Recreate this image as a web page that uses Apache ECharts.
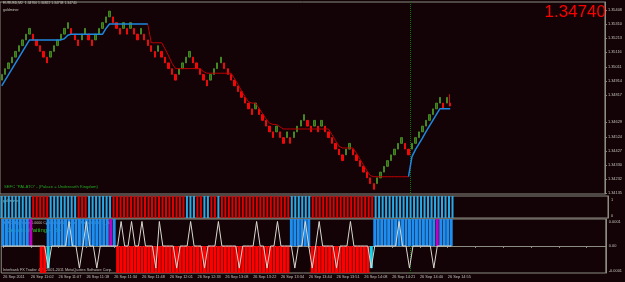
<!DOCTYPE html>
<html><head><meta charset="utf-8">
<script src="https://cdn.jsdelivr.net/npm/echarts@6/dist/echarts.min.js"></script>
<style>html,body{margin:0;padding:0;background:#130206;}#c{width:625px;height:282px;}</style>
</head><body><div id="c"></div>
<script>
// ---------- DATA ----------
const BRICK = 0.0004;
const brickClose = [
1.3496,1.3500,1.3504,1.3508,1.3512,1.3516,1.3520,1.3524,1.3528,
1.3520,1.3516,1.3512,1.3508,1.3504,
1.3512,1.3516,1.3520,1.3524,1.3528,1.3532,
1.3524,1.3520,1.3516,
1.3524,1.3528,
1.3520,1.3516,
1.3524,1.3528,1.3532,1.3536,1.3540,
1.3532,1.3528,1.3524,
1.3532,1.3524,1.3532,
1.3524,1.3520,
1.3528,
1.3520,1.3516,1.3512,1.3508,
1.3516,
1.3508,1.3504,1.3500,1.3496,1.3492,
1.3500,1.3504,1.3508,1.3512,
1.3504,1.3500,1.3496,1.3492,1.3488,
1.3496,1.3500,1.3504,1.3508,
1.3500,1.3496,1.3492,1.3488,1.3484,1.3480,1.3476,1.3472,1.3468,
1.3476,
1.3468,1.3464,1.3460,1.3456,1.3452,
1.3460,
1.3452,1.3448,
1.3456,1.3448,
1.3456,1.3460,1.3464,1.3468,
1.3460,1.3456,
1.3464,1.3456,1.3464,
1.3456,1.3452,1.3448,1.3444,1.3440,1.3436,
1.3444,1.3448,
1.3440,1.3436,1.3432,1.3428,1.3424,1.3420,1.3416,
1.3424,1.3428,1.3432,1.3436,1.3440,1.3444,1.3448,1.3452,
1.3444,1.3440,
1.3448,1.3452,1.3456,1.3460,1.3464,1.3468,1.3472,1.3476,1.3480,
1.3472,1.3480,
1.3474];
const brickDir =
 "uuuuuuuuu"+"ddddd"+"uuuuuu"+"ddd"+"uu"+"dd"+"uuuuu"+"ddd"+"u"+"d"+"u"+"dd"+"u"+"dddd"+"u"+
 "ddddd"+"uuuu"+"ddddd"+"uuuu"+"ddddddddd"+"u"+"ddddd"+"u"+"dd"+"u"+"d"+"uuuu"+"dd"+"u"+"d"+"u"+
 "dddddd"+"uu"+"ddddddd"+"uuuuuuuu"+"dd"+"uuuuuuuuu"+"d"+"u"+"d";
const lastBar = {open:1.3476, close:1.3474, low:1.34738, high:1.34822};

const stopLine = [
1.3488,1.3492,1.3496,1.3500,1.3504,1.3508,1.3512,1.3516,
1.3520,1.3520,1.3520,1.3520,1.3520,1.3520,1.3520,1.3520,1.3520,1.3520,
1.35208,1.35232,
1.3524,1.3524,1.3524,1.3524,1.3524,1.3524,1.3524,1.3524,1.3524,1.3524,
1.3528,1.3531,
1.3531,1.3531,1.3531,1.3531,1.3531,1.3531,1.3531,1.3531,1.3531,1.3531,1.3531,
1.3518,1.3518,1.3518,1.3518,
1.35136,1.35088,1.35036,
1.3500,1.3500,1.3500,1.3500,1.3500,1.3500,1.3500,1.3500,
1.3498,
1.34968,1.34968,1.34968,1.34968,1.34968,1.34968,1.34968,1.34968,
1.34928,1.34888,1.34844,1.34804,1.34768,
1.3476,1.3476,
1.34724,1.34688,1.34652,1.3462,
1.34612,1.34612,
1.34596,
1.3458,1.3458,1.3458,1.3458,1.3458,1.3458,1.3458,1.3458,1.3458,1.3458,1.3458,1.3458,1.3458,1.3458,
1.3454,1.3450,1.3446,
1.34448,1.34448,1.34448,1.34448,
1.34412,1.34372,1.34332,1.34292,1.34256,
1.34248,1.34248,1.34248,1.34248,1.34248,1.34248,1.34248,1.34248,1.34248,1.34248,1.34248,
1.34388,1.34436,1.34476,1.34516,1.3456,1.3460,1.3464,1.3468,
1.3472,1.3472,1.3472,1.3472];
const stopUpRanges = [[0,42],[117,129]];

const timeLabels = ["26 Sep 2011","26 Sep 11:02","26 Sep 11:07","26 Sep 11:18","26 Sep 11:34","26 Sep 11:48",
 "26 Sep 12:01","26 Sep 12:33","26 Sep 13:08","26 Sep 13:22","26 Sep 13:34","26 Sep 13:44","26 Sep 13:51",
 "26 Sep 14:08","26 Sep 14:21","26 Sep 14:40","26 Sep 14:55"];
const priceTicks = [1.35408,1.35310,1.35213,1.35116,1.35011,1.34914,1.34817,1.34629,1.34524,1.34427,1.34330,1.34232,1.34135];

const gmColors =
 "bbbbbbbbb"+"rrrrr"+"bbbbbbbb"+"rrr"+"bbbbbbb"+"rrrrrrrrrrrrrrrrrrrrr"+"bbbrrbbrrb"+
 "rrrrrrrrrrrrrrrrrrrr"+"bbbbbb"+"rrrrrrrrrrrrrrrrrr"+"bbbbbbbbbbbbbbbbbbbbbbb";
const gmTicks = [1, 0];

const oscHist =
 "UUUUUUUU"+"M"+"00"+"DD"+"X"+"UUUUUUUUUUUUUUUUU"+"M"+"U"+
 "DDDDDDDDDD"+"DDDDDDDDDD"+"DDDDDDDDDD"+"DDDDDDDDDD"+"DDDDDDDDDD"+
 "UUUUUU"+"DDDDDDDDDDDDDDDDD"+"C"+"UUUUUUUUUUUUUUUUUU"+"M"+"UUUU";
const oscSpikeUp = [19,24,34,37,40,45,54,62,73,79,87,91,100,114];
const oscSpikeDown = [13,22,27,44,50,58,68,76,84,89,96,106,117,124];
const oscTicks = [0.0001, 0, -0.0001];
const oscTickText = ["0.0001","0.00","-0.0001"];

// ---------- BUILD ----------
const N = 174, NB = brickClose.length;
const cats = []; for (let i=0;i<N;i++) cats.push(String(i));
const candles = brickClose.map((c,i)=>{
  if (i===NB-1) return [lastBar.open,lastBar.close,lastBar.low,lastBar.high];
  const o = brickDir[i]==='u' ? c-BRICK : c+BRICK;
  return [o,c,Math.min(o,c),Math.max(o,c)];
});
const inUp = i => stopUpRanges.some(r=>i>=r[0]&&i<=r[1]);
const lineUp = stopLine.map((v,i)=>inUp(i)?v:null);
const lineDn = stopLine.map((v,i)=>(!inUp(i)||stopUpRanges.some(r=>i===r[0]&&i>0)||stopUpRanges.some(r=>i===r[1]&&i<NB-1))?v:null);

const gmData = gmColors.split('').map(ch=>({value:1,itemStyle:{color: ch==='b'?'#29aae6':'#e00000'}}));
const TOPV = 0.00011, BOTV = -0.00011;
const upCol = {U:'#1e8ef0',M:'#c000c0',X:'#1e8ef0'};
const oscUp = oscHist.split('').map(ch=>upCol[ch]?{value:TOPV,itemStyle:{color:upCol[ch]}}:null);
const oscDn = oscHist.split('').map(ch=>ch==='D'?{value:BOTV,itemStyle:{color:'#ff0000'}}:
  (ch==='C'||ch==='X')?{value:-0.00009,itemStyle:{color:'#10d8f0'}}:null);
const oscLine = [];
for (let i=0;i<NB;i++) oscLine.push(oscSpikeUp.includes(i)?0.0001:(oscSpikeDown.includes(i)?-0.00009:0));

const GRAY='#8c8c80', TXT='#c4c4bc', FF='Liberation Sans, Arial, sans-serif';
const yMax = 1.354635, yMin = 1.341278;

const chart = echarts.init(document.getElementById('c'));
const xAx = g => ({type:'category', gridIndex:g, data:cats, boundaryGap:true,
  axisLine:{show:g===2, lineStyle:{color:GRAY}},
  axisTick:{show:g===2, interval:7, alignWithLabel:true, length:2, lineStyle:{color:GRAY}},
  axisLabel:{show:g===2, interval:7, align:'left', margin:2, fontSize:3.9, color:TXT, fontFamily:FF,
    formatter:(v,i)=>{const k=Number(v); return (k%8===0 && k/8<timeLabels.length)?timeLabels[k/8]:'';}},
  splitLine:{show:false}});
const option = {
  backgroundColor:'#130206', animation:false,
  grid:[
    {left:0,right:17,top:2,height:192,show:true,borderColor:GRAY,borderWidth:1},
    {left:0,right:17,top:196,height:22,show:true,borderColor:GRAY,borderWidth:1},
    {left:0,right:17,top:219,height:54,show:true,borderColor:GRAY,borderWidth:1}
  ],
  xAxis:[xAx(0),xAx(1),xAx(2)],
  yAxis:[
    {type:'value',gridIndex:0,position:'right',min:yMin,max:yMax,scale:true,
     axisLine:{show:true,lineStyle:{color:GRAY}},axisTick:{show:true,length:2,customValues:priceTicks,lineStyle:{color:GRAY}},
     axisLabel:{customValues:priceTicks,formatter:v=>v.toFixed(5),fontSize:3.9,color:TXT,fontFamily:FF,margin:3},splitLine:{show:false}},
    {type:'value',gridIndex:1,min:0,max:1,show:false},
    {type:'value',gridIndex:1,position:'right',min:-0.156,max:1.22,
     axisLine:{show:true,lineStyle:{color:GRAY}},axisTick:{show:false},
     axisLabel:{customValues:gmTicks,fontSize:3.9,color:TXT,fontFamily:FF,margin:3},splitLine:{show:false}},
    {type:'value',gridIndex:2,position:'right',min:BOTV,max:TOPV,
     axisLine:{show:true,lineStyle:{color:GRAY}},axisTick:{show:false},
     axisLabel:{customValues:oscTicks,formatter:v=>oscTickText[oscTicks.findIndex(t=>Math.abs(t-v)<1e-9)],fontSize:3.9,color:TXT,fontFamily:FF,margin:3},splitLine:{show:false}}
  ],
  series:[
    {type:'candlestick',xAxisIndex:0,yAxisIndex:0,data:candles,barWidth:1.9,
     itemStyle:{color:'#2c6a10',color0:'#ff0000',borderColor:'#4f9c2a',borderColor0:'#ff1010',borderWidth:0.8},
     markLine:{symbol:'none',silent:true,data:[{yAxis:lastBar.close}],lineStyle:{opacity:0},
       label:{position:'end',distance:1,formatter:lastBar.close.toFixed(5),backgroundColor:'#e8e8e0',color:'#000',fontSize:3.9,fontFamily:FF,padding:[1,2]}}},
    {type:'line',xAxisIndex:0,yAxisIndex:0,data:lineDn,symbol:'none',lineStyle:{color:'#c00000',width:1},connectNulls:false},
    {type:'line',xAxisIndex:0,yAxisIndex:0,data:lineUp,symbol:'none',lineStyle:{color:'#1e88e0',width:1.5},connectNulls:false},
    {type:'bar',xAxisIndex:1,yAxisIndex:1,data:gmData,barWidth:2},
    {type:'bar',xAxisIndex:2,yAxisIndex:3,data:oscUp,barWidth:3,barGap:'-100%'},
    {type:'bar',xAxisIndex:2,yAxisIndex:3,data:oscDn,barWidth:3,barGap:'-100%'},
    {type:'line',xAxisIndex:2,yAxisIndex:3,data:oscLine,symbol:'none',lineStyle:{color:'#d8d8d0',width:1}}
  ]
};
chart.setOption(option);
const xa = chart.convertToPixel({xAxisIndex:0},117), xb = chart.convertToPixel({xAxisIndex:0},118);
const xv = Math.round((xa+xb)/2)+0.5;
chart.setOption({graphic:[
  {type:'line',z:1,shape:{x1:xv,y1:2,x2:xv,y2:273},style:{stroke:'#0a7a0a',lineWidth:1,lineDash:[1,1]}},
  {type:'text',left:3,top:2,style:{text:'EURUSD,M2  1.34760 1.34822 1.34738 1.34740',fill:TXT,fontSize:3.4,fontFamily:FF}},
  {type:'text',left:3,top:7.5,style:{text:'goldminer',fill:TXT,fontSize:3.6,fontFamily:FF}},
  {type:'text',right:19,top:4,style:{text:lastBar.close.toFixed(5),fill:'#ff0000',fontSize:17,fontFamily:FF}},
  {type:'text',left:4,top:185,style:{text:'SEFC "PALATO" - (Palace = Underearth Kingdom)',fill:'#22a822',fontSize:4.2,fontFamily:FF}},
  {type:'text',left:3,top:199,style:{text:'goldminer',fill:TXT,fontSize:3.6,fontFamily:FF}},
  {type:'text',left:3,top:220.5,style:{text:'SEFC-BuyPower 0.0000 Cycle 0.0000 + Level 2 Peak 0.0000 1_Hot',fill:TXT,fontSize:3.6,fontFamily:FF}},
  {type:'text',left:5,top:227,style:{text:'Cash In Waiting ~ BH',fill:'#22cc22',fontSize:6,fontFamily:FF}},
  {type:'text',left:3,top:268,style:{text:'Interbank FX Trader 4, \u00a9 2001-2011 MetaQuotes Software Corp.',fill:TXT,fontSize:3.8,fontFamily:FF}}
]});
</script></body></html>
